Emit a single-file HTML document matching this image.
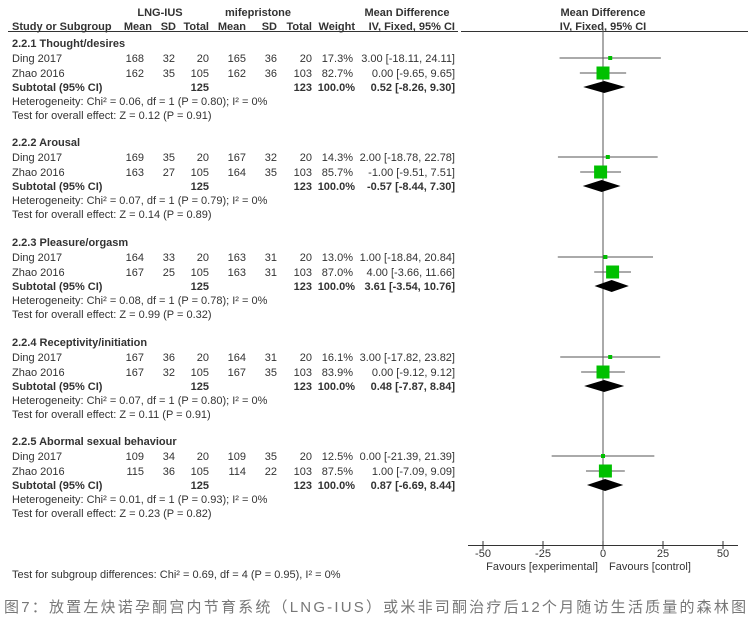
<!DOCTYPE html>
<html><head><meta charset="utf-8"><style>
body{margin:0;background:#fff;width:754px;height:626px;overflow:hidden}
svg{display:block}
text{font-family:"Liberation Sans",Arial,sans-serif;font-size:11px;fill:#333}
.b{font-weight:bold}
.r{text-anchor:end}
.c{text-anchor:middle}
.cap{font-family:"Liberation Sans","Noto Sans CJK SC",sans-serif;font-size:15px;fill:#777;letter-spacing:2.2px}
</style></head><body>
<svg width="754" height="626" xmlns="http://www.w3.org/2000/svg">
<text x="160" y="16" class="b c">LNG-IUS</text>
<text x="258" y="16" class="b c">mifepristone</text>
<text x="407" y="16" class="b c">Mean Difference</text>
<text x="603" y="16" class="b c">Mean Difference</text>
<text x="12" y="30" class="b">Study or Subgroup</text>
<text x="152" y="30" class="b r">Mean</text>
<text x="176" y="30" class="b r">SD</text>
<text x="209" y="30" class="b r">Total</text>
<text x="246" y="30" class="b r">Mean</text>
<text x="277" y="30" class="b r">SD</text>
<text x="312" y="30" class="b r">Total</text>
<text x="355" y="30" class="b r">Weight</text>
<text x="455" y="30" class="b r">IV, Fixed, 95% CI</text>
<text x="603" y="30" class="b c">IV, Fixed, 95% CI</text>
<line x1="8" y1="31.5" x2="458" y2="31.5" stroke="#333"/>
<line x1="461" y1="31.5" x2="748" y2="31.5" stroke="#333"/>
<line x1="603" y1="26" x2="603" y2="545" stroke="#555"/>

<g id="sections"></g>

<line x1="468" y1="545.5" x2="738" y2="545.5" stroke="#333"/>
<g stroke="#333">
<line x1="483" y1="541" x2="483" y2="549"/><line x1="543" y1="541" x2="543" y2="549"/>
<line x1="603" y1="541" x2="603" y2="549"/><line x1="663" y1="541" x2="663" y2="549"/>
<line x1="723" y1="541" x2="723" y2="549"/></g>
<text x="483" y="557" class="c">-50</text><text x="543" y="557" class="c">-25</text>
<text x="603" y="557" class="c">0</text><text x="663" y="557" class="c">25</text><text x="723" y="557" class="c">50</text>
<text x="598" y="570" class="r">Favours [experimental]</text>
<text x="609" y="570">Favours [control]</text>
<text x="12" y="578">Test for subgroup differences: Chi² = 0.69, df = 4 (P = 0.95), I² = 0%</text>
<text x="4" y="612" class="cap">图7：放置左炔诺孕酮宫内节育系统（LNG-IUS）或米非司酮治疗后12个月随访生活质量的森林图</text>
</svg>
<script>
const S=[
["2.2.1 Thought/desires",[["Ding 2017",168,32,20,165,36,20,"17.3%",3,-18.11,24.11],["Zhao 2016",162,35,105,162,36,103,"82.7%",0,-9.65,9.65]],[0.52,-8.26,9.30],"0.06","0.80","0.12","0.91"],
["2.2.2 Arousal",[["Ding 2017",169,35,20,167,32,20,"14.3%",2,-18.78,22.78],["Zhao 2016",163,27,105,164,35,103,"85.7%",-1,-9.51,7.51]],[-0.57,-8.44,7.30],"0.07","0.79","0.14","0.89"],
["2.2.3 Pleasure/orgasm",[["Ding 2017",164,33,20,163,31,20,"13.0%",1,-18.84,20.84],["Zhao 2016",167,25,105,163,31,103,"87.0%",4,-3.66,11.66]],[3.61,-3.54,10.76],"0.08","0.78","0.99","0.32"],
["2.2.4 Receptivity/initiation",[["Ding 2017",167,36,20,164,31,20,"16.1%",3,-17.82,23.82],["Zhao 2016",167,32,105,167,35,103,"83.9%",0,-9.12,9.12]],[0.48,-7.87,8.84],"0.07","0.80","0.11","0.91"],
["2.2.5 Abormal sexual behaviour",[["Ding 2017",109,34,20,109,35,20,"12.5%",0,-21.39,21.39],["Zhao 2016",115,36,105,114,22,103,"87.5%",1,-7.09,9.09]],[0.87,-6.69,8.44],"0.01","0.93","0.23","0.82"]];
const offs=[0,99,199,299,398];
const X=v=>603+v*2.4, f=v=>v.toFixed(2);
let h="";
const t=(x,y,s,c)=>`<text x="${x}" y="${y}" class="${c||''}">${s}</text>`;
S.forEach((s,i)=>{const o=offs[i];
h+=t(12,47+o,s[0],"b");
s[1].forEach((r,j)=>{const y=62+o+j*15;
h+=t(12,y,r[0])+t(144,y,r[1],"r")+t(175,y,r[2],"r")+t(209,y,r[3],"r")+t(246,y,r[4],"r")+t(277,y,r[5],"r")+t(312,y,r[6],"r")+t(353,y,r[7],"r")+t(455,y,`${f(r[8])} [${f(r[9])}, ${f(r[10])}]`,"r");
const cy=y-4, sz=j==0?4:13;
h+=`<line x1="${X(r[9])}" y1="${cy}" x2="${X(r[10])}" y2="${cy}" stroke="#555"/>`;
h+=`<rect x="${X(r[8])-sz/2}" y="${cy-sz/2}" width="${sz}" height="${sz}" fill="#00c000"/>`;});
const y=91+o, st=s[2];
h+=t(12,y,"Subtotal (95% CI)","b")+t(209,y,"125","b r")+t(312,y,"123","b r")+t(355,y,"100.0%","b r")+t(455,y,`${f(st[0])} [${f(st[1])}, ${f(st[2])}]`,"b r");
const dy=y-4;
h+=`<polygon points="${X(st[1])},${dy} ${X(st[0])},${dy-6} ${X(st[2])},${dy} ${X(st[0])},${dy+6}" fill="#000"/>`;
h+=t(12,105+o,`Heterogeneity: Chi² = ${s[3]}, df = 1 (P = ${s[4]}); I² = 0%`);
h+=t(12,119+o,`Test for overall effect: Z = ${s[5]} (P = ${s[6]})`);});
document.getElementById("sections").innerHTML=h;
</script>
</body></html>
